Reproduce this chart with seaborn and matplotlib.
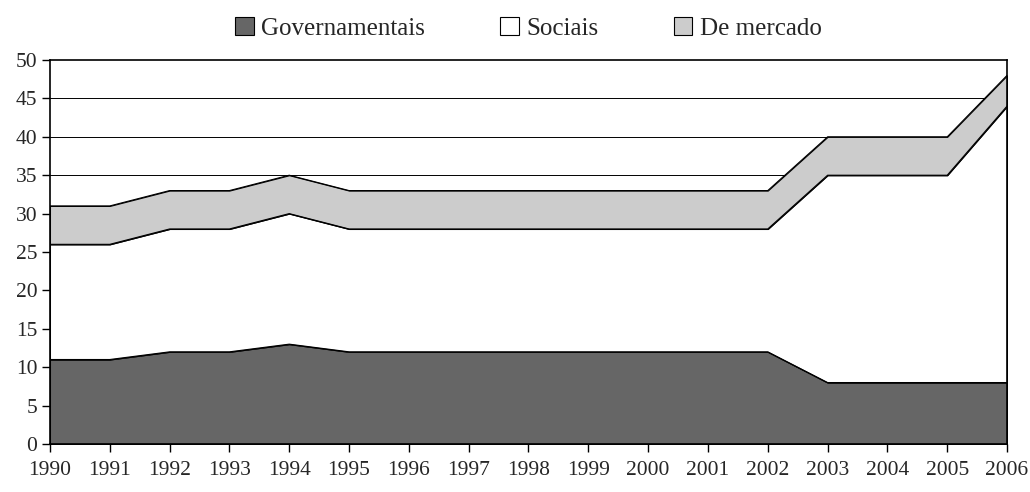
import matplotlib
matplotlib.use("Agg")
import matplotlib.pyplot as plt
import numpy as np
import pandas as pd
import seaborn as sns

# data
anos = list(range(1990, 2007))
governamentais = [11, 11, 12, 12, 13, 12, 12, 12, 12, 12, 12, 12, 12, 8, 8, 8, 8]
sociais = [15, 15, 16, 16, 17, 16, 16, 16, 16, 16, 16, 16, 16, 27, 27, 27, 36]
de_mercado = [5, 5, 5, 5, 5, 5, 5, 5, 5, 5, 5, 5, 5, 5, 5, 5, 4]
series = ["Governamentais", "Sociais", "De mercado"]
cores = ["#666666", "#ffffff", "#cccccc"]

df = pd.DataFrame({"ano": anos, "Governamentais": governamentais,
                   "Sociais": sociais, "De mercado": de_mercado})

sns.set_style("white")
plt.rcParams['font.family'] = ['Liberation Serif', 'DejaVu Serif']

fig, ax = plt.subplots(figsize=(10.3, 4.92), dpi=100)
fig.subplots_adjust(left=0.0485, right=0.9777, top=0.878, bottom=0.0976)

ax.stackplot(df["ano"], df[series].T.values, colors=cores, labels=series,
             edgecolor="black", linewidth=0.8, zorder=2)

# cumulative outlines via seaborn
cum = df[series].cumsum(axis=1)
for s in series:
    sns.lineplot(x=df["ano"], y=cum[s], color="black", linewidth=0.8, ax=ax, zorder=3)

for y in range(5, 50, 5):
    ax.axhline(y, color="black", linewidth=0.7, zorder=1)

ax.set_xlim(1990, 2006)
ax.set_ylim(0, 50)
ax.set_yticks(range(0, 51, 5))
ax.set_xticks(anos)
ax.set_xlabel("")
ax.set_ylabel("")
ax.tick_params(axis="both", which="both", direction="out", length=6, width=1,
               labelsize=15.5, color="black", left=True, bottom=True)
ax.tick_params(axis="x", pad=6)
ax.tick_params(axis="y", pad=3)
for sp in ax.spines.values():
    sp.set_visible(True)
    sp.set_color("black")
    sp.set_linewidth(1.2)
    sp.set_zorder(4)

handles, labels = ax.get_legend_handles_labels()
leg = ax.legend(handles[:3], labels[:3], loc="center", bbox_to_anchor=(0.5, 1.083),
                ncol=3, frameon=False, fontsize=18, handlelength=0.75, handleheight=0.75,
                handletextpad=0.3, columnspacing=3)
for h in leg.legend_handles:
    h.set_edgecolor("black")

fig.savefig("out.png", dpi=100)
